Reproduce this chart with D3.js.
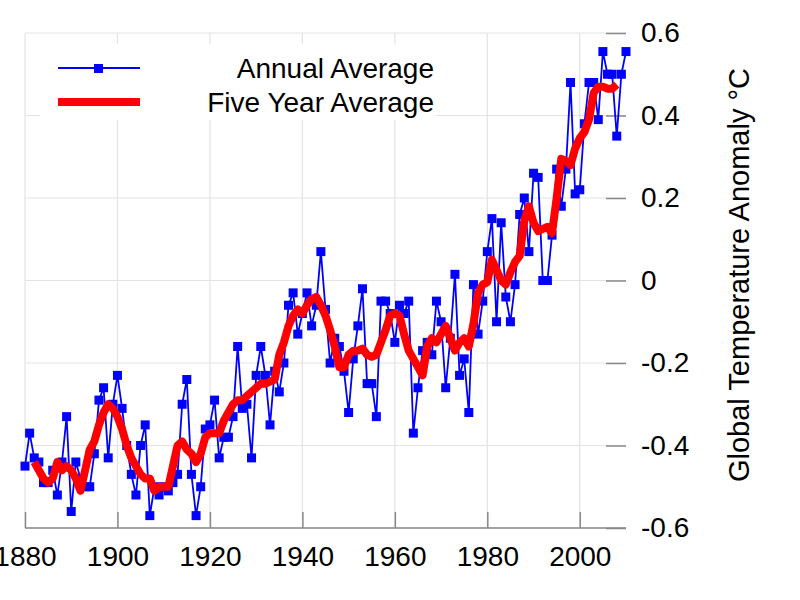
<!DOCTYPE html>
<html><head><meta charset="utf-8">
<script src="https://cdn.jsdelivr.net/npm/d3@7"></script>
<style>body{margin:0;background:#fff}</style>
</head><body>
<div id="chart"></div>
<script>
var annualYears = d3.range(1880, 2011);
var annualValues = [
  -0.45,-0.37,-0.43,-0.44,-0.49,-0.49,-0.46,-0.52,-0.44,-0.33,
  -0.56,-0.44,-0.48,-0.50,-0.50,-0.42,-0.29,-0.26,-0.43,-0.30,
  -0.23,-0.31,-0.40,-0.47,-0.52,-0.40,-0.35,-0.57,-0.50,-0.52,
  -0.50,-0.51,-0.49,-0.47,-0.30,-0.24,-0.47,-0.57,-0.50,-0.36,
  -0.35,-0.29,-0.43,-0.38,-0.38,-0.33,-0.16,-0.31,-0.30,-0.43,
  -0.23,-0.16,-0.23,-0.35,-0.22,-0.27,-0.20,-0.06,-0.03,-0.13,
  -0.08,-0.03,-0.11,-0.06,0.07,-0.07,-0.20,-0.14,-0.16,-0.22,
  -0.32,-0.19,-0.11,-0.02,-0.25,-0.25,-0.33,-0.05,-0.05,-0.08,
  -0.15,-0.06,-0.08,-0.05,-0.37,-0.26,-0.17,-0.15,-0.18,-0.05,
  -0.10,-0.26,-0.14,0.015,-0.23,-0.19,-0.32,-0.01,-0.13,-0.05,
  0.07,0.15,-0.10,0.14,-0.04,-0.10,-0.01,0.16,0.20,0.07,
  0.26,0.25,0.00,0.00,0.11,0.27,0.18,0.27,0.48,0.21,
  0.22,0.38,0.48,0.48,0.39,0.555,0.50,0.50,0.35,0.50,
  0.555
];
var fiveYears = d3.range(1882, 2009);
var fiveValues = [
  -0.44,-0.46,-0.48,-0.49,-0.48,-0.44,-0.46,-0.45,-0.46,-0.48,
  -0.51,-0.46,-0.41,-0.39,-0.35,-0.32,-0.30,-0.31,-0.33,-0.36,
  -0.40,-0.43,-0.45,-0.47,-0.48,-0.48,-0.51,-0.50,-0.50,-0.50,
  -0.45,-0.40,-0.39,-0.41,-0.42,-0.44,-0.42,-0.38,-0.37,-0.37,
  -0.37,-0.34,-0.32,-0.30,-0.29,-0.29,-0.28,-0.27,-0.26,-0.25,
  -0.25,-0.245,-0.24,-0.18,-0.15,-0.11,-0.085,-0.07,-0.08,-0.06,
  -0.045,-0.04,-0.06,-0.085,-0.12,-0.16,-0.21,-0.21,-0.18,-0.17,
  -0.17,-0.165,-0.18,-0.185,-0.18,-0.15,-0.12,-0.085,-0.08,-0.085,
  -0.13,-0.17,-0.19,-0.21,-0.23,-0.16,-0.14,-0.15,-0.13,-0.11,
  -0.14,-0.17,-0.15,-0.14,-0.16,-0.105,-0.03,-0.01,-0.004,0.05,
  0.025,0.0,-0.01,0.02,0.045,0.06,0.145,0.18,0.14,0.12,
  0.125,0.13,0.115,0.20,0.295,0.29,0.28,0.32,0.345,0.36,
  0.39,0.455,0.47,0.47,0.465,0.465,0.475
];
var xTicks = [1880, 1900, 1920, 1940, 1960, 1980, 2000];
var yTicks = [-0.6, -0.4, -0.2, 0, 0.2, 0.4, 0.6];

var W = 800, H = 600;
var margin = {top: 33, right: 174, bottom: 72, left: 25};
var width = W - margin.left - margin.right;
var height = H - margin.top - margin.bottom;
var font = "'Liberation Sans', Arial, sans-serif";

var svg = d3.select("#chart").append("svg")
  .attr("width", W).attr("height", H)
  .style("font-family", font);
var g = svg.append("g")
  .attr("transform", "translate(" + margin.left + "," + margin.top + ")");

var x = d3.scaleLinear().domain([1880, 2010]).range([0, width]);
var y = d3.scaleLinear().domain([-0.6, 0.6]).range([height, 0]);

// grid
g.selectAll(".vg").data(xTicks).enter().append("line")
  .attr("x1", d => x(d)).attr("x2", d => x(d))
  .attr("y1", 0).attr("y2", height)
  .attr("stroke", "#e3e3e3").attr("stroke-width", 1.2);
g.selectAll(".hg").data(yTicks).enter().append("line")
  .attr("x1", 0).attr("x2", width)
  .attr("y1", d => y(d)).attr("y2", d => y(d))
  .attr("stroke", "#e3e3e3").attr("stroke-width", 1.2);

// axes
var xAxis = g.append("g").attr("transform", "translate(0," + height + ")")
  .call(d3.axisBottom(x).tickValues(xTicks).tickFormat(d3.format("d"))
    .tickSizeInner(-16).tickSizeOuter(0).tickPadding(18));
var yAxis = g.append("g").attr("transform", "translate(" + width + ",0)")
  .call(d3.axisRight(y).tickValues(yTicks)
    .tickFormat(d => d === 0 ? "0" : d3.format(".1f")(d).replace("−", "-"))
    .tickSizeInner(-20).tickSizeOuter(0).tickPadding(15));
[xAxis, yAxis].forEach(function(a) {
  a.select(".domain").remove();
  a.selectAll(".tick line").attr("stroke", "#888").attr("stroke-width", 1.5);
  a.selectAll("text").attr("fill", "#000").style("font-size", "28px").style("font-family", font);
});
g.append("line").attr("x1", 0).attr("x2", width).attr("y1", height).attr("y2", height)
  .attr("stroke", "#888").attr("stroke-width", 1.5);

// annual
var line = d3.line().x(d => x(d[0])).y(d => y(d[1]));
var annual = annualYears.map((yr, i) => [yr, annualValues[i]]);
var five = fiveYears.map((yr, i) => [yr, fiveValues[i]]);
g.append("path").datum(annual).attr("d", line)
  .attr("fill", "none").attr("stroke", "#0000ff").attr("stroke-width", 1.8);
g.selectAll(".pt").data(annual).enter().append("rect")
  .attr("x", d => x(d[0]) - 4.5).attr("y", d => y(d[1]) - 4.5)
  .attr("width", 9).attr("height", 9).attr("fill", "#0000ff");
g.append("path").datum(five).attr("d", line)
  .attr("fill", "none").attr("stroke", "#ff0000").attr("stroke-width", 8)
  .attr("stroke-linejoin", "round");

// legend
svg.append("rect").attr("x", 40).attr("y", 44).attr("width", 396).attr("height", 76).attr("fill", "#fff");
svg.append("line").attr("x1", 58).attr("x2", 140).attr("y1", 68).attr("y2", 68)
  .attr("stroke", "#0000ff").attr("stroke-width", 1.8);
svg.append("rect").attr("x", 94).attr("y", 64).attr("width", 9).attr("height", 9).attr("fill", "#0000ff");
svg.append("line").attr("x1", 58).attr("x2", 140).attr("y1", 102).attr("y2", 102)
  .attr("stroke", "#ff0000").attr("stroke-width", 8);
svg.append("text").attr("x", 434).attr("y", 78).attr("text-anchor", "end")
  .style("font-size", "28px").text("Annual Average");
svg.append("text").attr("x", 434).attr("y", 112).attr("text-anchor", "end")
  .style("font-size", "28px").text("Five Year Average");

// y title
svg.append("text").attr("transform", "translate(749,275) rotate(-90)")
  .attr("text-anchor", "middle").style("font-size", "29px")
  .text("Global Temperature Anomaly °C");
</script>
</body></html>
